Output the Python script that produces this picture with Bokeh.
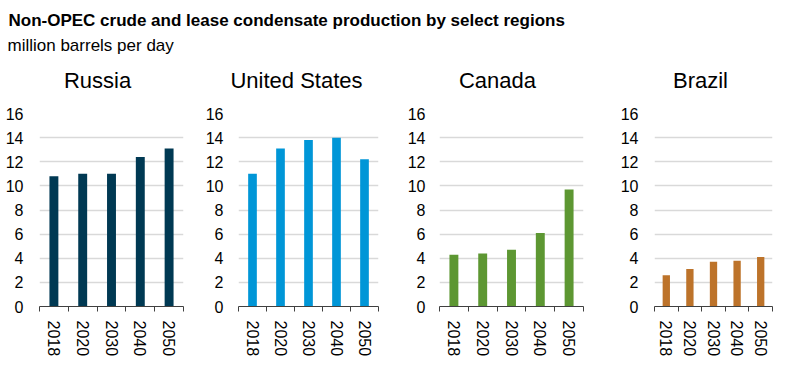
from bokeh.plotting import figure
from bokeh.layouts import column, row
from bokeh.models import Range1d, FixedTicker, Label, ColumnDataSource
from bokeh.embed import file_html
from bokeh.resources import INLINE

# ---- data ----
years = ["2018", "2020", "2030", "2040", "2050"]
regions = ["Russia", "United States", "Canada", "Brazil"]
russia = [10.8, 11.0, 11.0, 12.4, 13.1]
united_states = [11.0, 13.1, 13.8, 14.0, 12.2]
canada = [4.3, 4.4, 4.7, 6.1, 9.7]
brazil = [2.6, 3.1, 3.7, 3.8, 4.1]
y_ticks = [0, 2, 4, 6, 8, 10, 12, 14, 16]

title_text = "Non-OPEC crude and lease condensate production by select regions"
subtitle_text = "million barrels per day"

FONT = "Liberation Sans"
colors = ["#003953", "#0096d7", "#5d9732", "#bd732a"]
series = [russia, united_states, canada, brazil]

# layout geometry:
# (width, border_left, border_top, frame_w, frame_h, label standoff, title x within frame)
geom = [
    (200, 39, 16, 144, 197, 16, 58),
    (200, 38, 18, 140, 195, 15, 58),
    (205, 39, 16, 144, 197, 14, 58),
    (194, 49, 14, 118, 197, 16, 46),
]
HEADER_H = 95
PANEL_H = 376 - HEADER_H

# ---- header (main title, subtitle and the four panel titles) ----
header = figure(width=799, height=HEADER_H, x_range=(0, 1), y_range=(0, 1),
                toolbar_location=None, output_backend="svg",
                x_axis_location=None, y_axis_location=None,
                min_border=0, outline_line_color=None)
header.title = None
header.grid.visible = False
header.add_layout(Label(x=8, y=HEADER_H - 20, x_units="screen", y_units="screen",
                        text=title_text, text_font=FONT, text_font_size="17px",
                        text_font_style="bold", text_color="#000000",
                        text_baseline="alphabetic"))
header.add_layout(Label(x=7, y=HEADER_H - 45, x_units="screen", y_units="screen",
                        text=subtitle_text, text_font=FONT, text_font_size="17px",
                        text_color="#000000", text_baseline="alphabetic"))

x0 = 0
for name, g in zip(regions, geom):
    header.add_layout(Label(x=x0 + g[1] + g[6], y=HEADER_H - 80,
                            x_units="screen", y_units="screen",
                            text=name, text_align="center", text_baseline="alphabetic",
                            text_font=FONT, text_font_size="22px", text_color="#000000"))
    x0 += g[0]


def make_panel(vals, color, g):
    width, bl, bt, fw, fh, so, _ = g
    br = width - bl - fw
    bb = PANEL_H - bt - fh
    n = len(years)
    p = figure(width=width, height=PANEL_H, x_range=Range1d(0, n), y_range=Range1d(0, 16),
               toolbar_location=None, output_backend="svg",
               min_border_left=bl, min_border_right=br,
               min_border_top=bt, min_border_bottom=bb,
               outline_line_color=None)
    p.title = None
    src = ColumnDataSource(dict(x=[i + 0.5 for i in range(n)], top=vals))
    p.vbar(x="x", top="top", width=0.31, bottom=0, source=src,
           fill_color=color, line_color=None)

    # y axis
    p.yaxis.ticker = FixedTicker(ticks=y_ticks)
    p.yaxis.axis_line_color = None
    p.yaxis.major_tick_line_color = None
    p.yaxis.minor_tick_line_color = None
    p.yaxis.major_tick_out = 0
    p.yaxis.major_tick_in = 0
    p.yaxis.major_label_standoff = so
    p.yaxis.major_label_text_font = FONT
    p.yaxis.major_label_text_font_size = "16px"
    p.yaxis.major_label_text_color = "#000000"

    # x axis
    p.xaxis.ticker = FixedTicker(ticks=[i + 0.5 for i in range(n)],
                                 minor_ticks=[float(i) for i in range(n + 1)])
    p.xaxis.major_label_overrides = {i + 0.5: y for i, y in enumerate(years)}
    p.xaxis.major_label_orientation = "vertical"
    p.xaxis.major_tick_line_color = None
    p.xaxis.major_tick_out = 0
    p.xaxis.major_tick_in = 0
    p.xaxis.minor_tick_out = 5
    p.xaxis.minor_tick_in = 0
    p.xaxis.minor_tick_line_color = "#404040"
    p.xaxis.axis_line_color = "#404040"
    p.xaxis.major_label_standoff = 9
    p.xaxis.major_label_text_font = FONT
    p.xaxis.major_label_text_font_size = "16px"
    p.xaxis.major_label_text_color = "#000000"

    p.xgrid.visible = False
    p.ygrid.ticker = FixedTicker(ticks=y_ticks)
    p.ygrid.grid_line_color = "#d9d9d9"
    p.ygrid.grid_line_width = 1.5
    return p


panels = [make_panel(series[i], colors[i], geom[i]) for i in range(4)]
layout = column(header, row(*panels))

open("out.html", "w").write(file_html(layout, INLINE))
